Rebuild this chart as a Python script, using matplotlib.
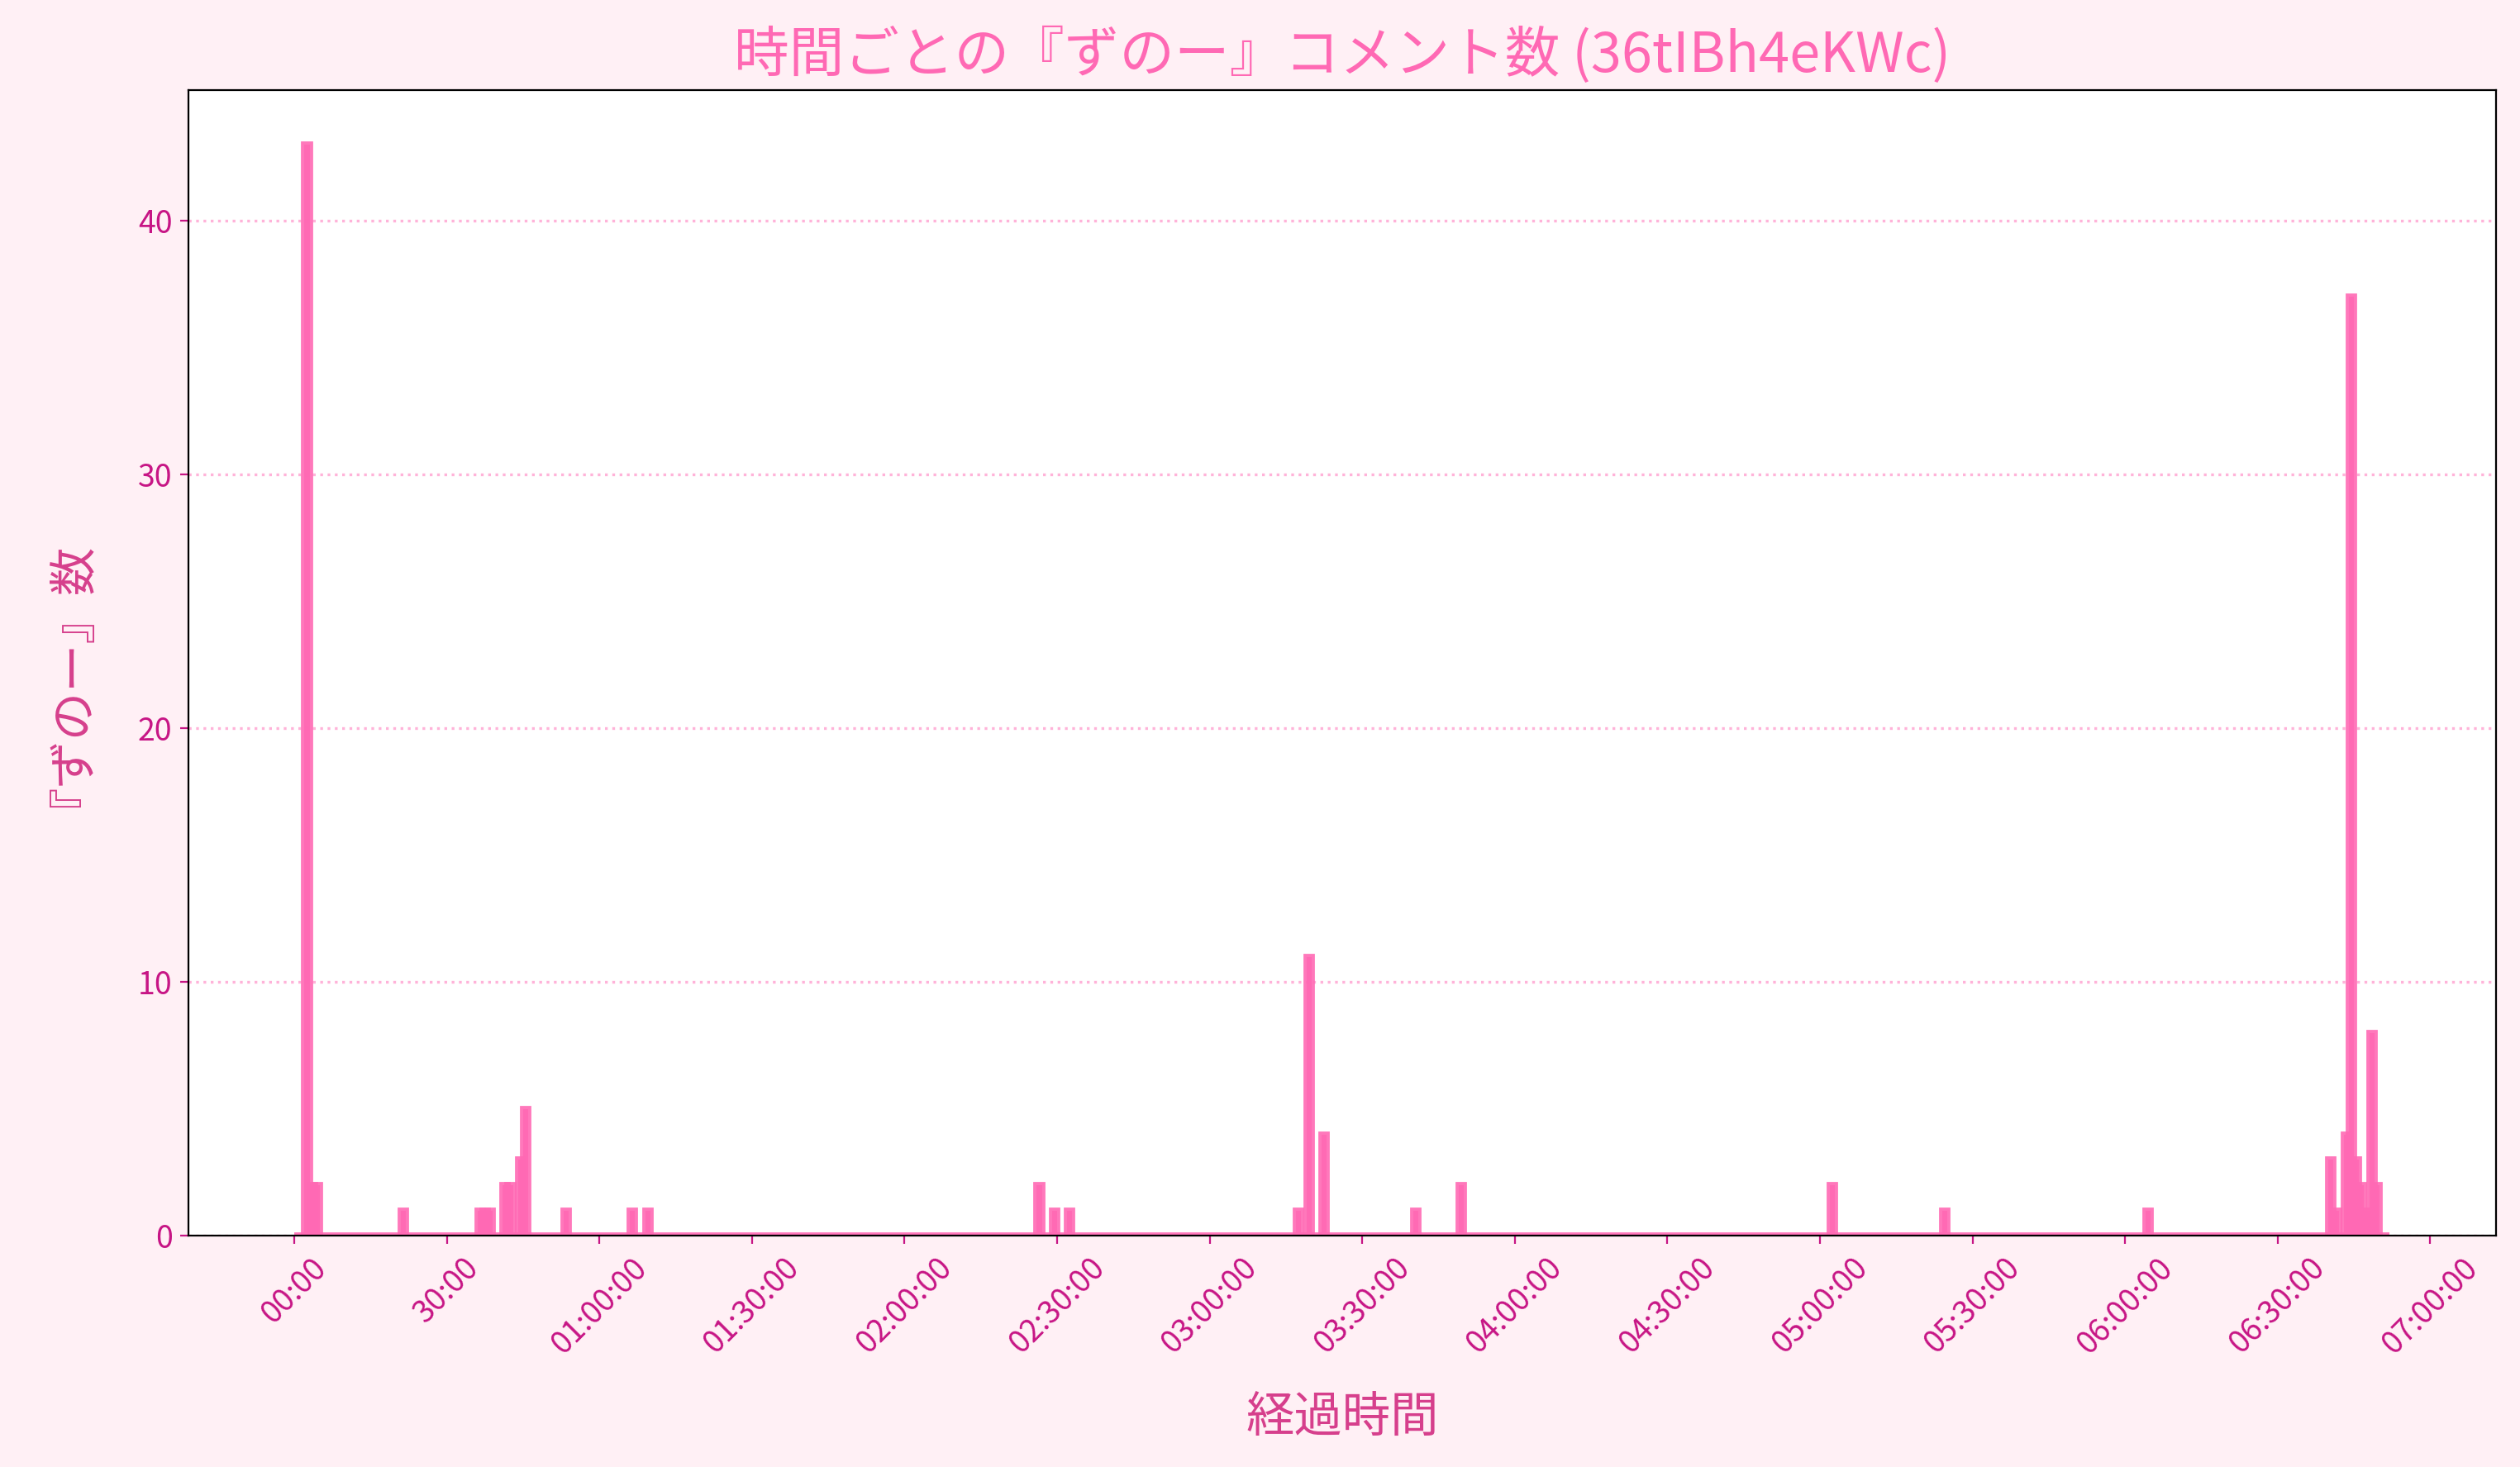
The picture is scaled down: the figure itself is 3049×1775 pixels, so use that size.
import numpy as np
import matplotlib
matplotlib.use("Agg")
import matplotlib.pyplot as plt
from matplotlib.ticker import FuncFormatter

plt.rcParams['font.family'] = ['Noto Sans CJK JP', 'DejaVu Sans']

# minutes since stream start that had at least one comment, and the counts
minutes = [2, 3, 4, 21, 36, 37, 38, 41, 42, 44, 45, 53, 66, 69,
           146, 149, 152, 197, 199, 202, 220, 229, 302, 324, 364,
           400, 401, 403, 404, 405, 406, 407, 408, 409]
counts = [43, 2, 2, 1, 1, 1, 1, 2, 2, 3, 5, 1, 1, 1,
          2, 1, 1, 1, 11, 4, 1, 2, 2, 1, 1,
          3, 1, 4, 37, 3, 2, 1, 8, 2]
n_minutes = 412

per_min = np.zeros(n_minutes)
per_min[minutes] = counts
x_sec = np.arange(n_minutes) * 60 + 30


def fmt_time(v, pos):
    v = int(round(v))
    h, rem = divmod(v, 3600)
    m, s = divmod(rem, 60)
    if h == 0:
        return f"{m:02d}:{s:02d}"
    return f"{h:02d}:{m:02d}:{s:02d}"


fig = plt.figure(figsize=(15.245, 8.875), dpi=200, facecolor='#fff0f5')
ax = fig.add_axes([0.0748, 0.1575, 0.9158, 0.7811])
ax.set_facecolor('white')

# 1-minute bins, thick edges make neighbouring bars overlap a bit
ax.bar(x_sec, per_min, width=60, color='hotpink', alpha=0.9,
       edgecolor='hotpink', linewidth=2.8)

ax.set_xlim(-1248, 25980)
ax.set_xticks(np.arange(0, 25201, 1800))
ax.xaxis.set_major_formatter(FuncFormatter(fmt_time))
plt.setp(ax.get_xticklabels(), rotation=45)

ax.tick_params(colors='mediumvioletred', labelsize=13.5)
ax.grid(axis='y', linestyle=':', color='hotpink', alpha=0.5, linewidth=1.2)

ax.set_title('時間ごとの『ずのー』コメント数 (36tIBh4eKWc)',
             color='hotpink', fontsize=24, pad=8)
ax.set_xlabel('経過時間', color='#d63f8c', fontsize=21, labelpad=14)
ax.set_ylabel('『ずのー』数', color='#d63f8c', fontsize=21, labelpad=28)

fig.savefig('out.png', dpi=200, facecolor=fig.get_facecolor())
